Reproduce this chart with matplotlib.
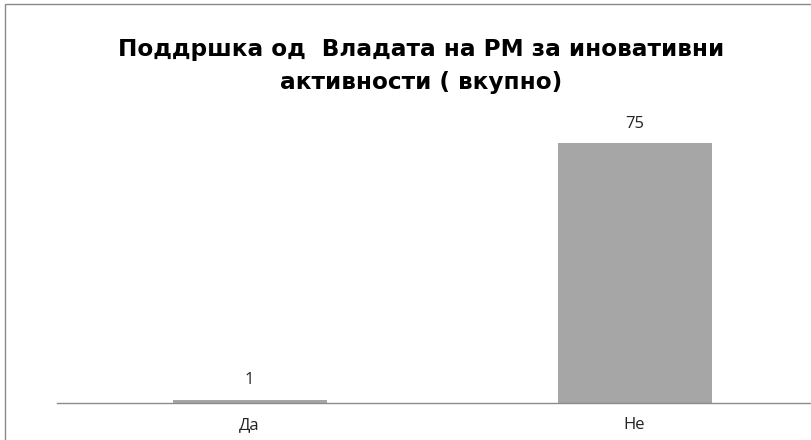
import matplotlib.pyplot as plt
from matplotlib.patches import Rectangle

# Data
categories = ["Да", "Не"]
values = [1, 75]
title = "Поддршка од  Владата на РМ за иновативни\nактивности ( вкупно)"

plt.rcParams['font.family'] = ['Open Sans', 'DejaVu Sans']

W, H = 811, 440
fig = plt.figure(figsize=(W / 100, H / 100), dpi=100)

# Axes extends past the right edge (reference is cropped)
x0, x1 = 57, 827
y_base, y_top = 403, 143
ax = fig.add_axes([x0 / W, (H - y_base) / H, (x1 - x0) / W, (y_base - 60) / H])
px_per_unit = (y_base - y_top) / 75
ax.set_ylim(0, (y_base - 60) / px_per_unit)
ax.set_xlim(-0.5, 1.5)

bars = ax.bar(range(len(categories)), values, width=0.4, color='#a6a6a6')
for b, v in zip(bars, values):
    ax.annotate(str(v), (b.get_x() + b.get_width() / 2, v), xytext=(0, 8),
                textcoords='offset points', ha='center', va='bottom',
                fontsize=12, color='#222222')

ax.set_xticks(range(len(categories)))
ax.set_xticklabels(categories, fontsize=12, color='#222222')
ax.tick_params(axis='x', length=0, pad=10)
ax.set_yticks([])
for s in ['top', 'right', 'left']:
    ax.spines[s].set_visible(False)
ax.spines['bottom'].set_color('#8c8c8c')
ax.spines['bottom'].set_linewidth(1)

fig.text(0.5 + 16 / W, 1 - 66 / H, title, ha='center', va='center',
         fontsize=16.7, fontweight='bold', linespacing=1.53, color='black',
         family=['DejaVu Sans'])

# Outer chart border (cropped on right and bottom)
fig.patches.append(Rectangle((4.5 / W, -0.1), 1.2, 1 - 4.5 / H + 0.1,
                             transform=fig.transFigure, fill=False,
                             edgecolor='#8a8a8a', linewidth=1))

fig.savefig('out.png', dpi=100)
